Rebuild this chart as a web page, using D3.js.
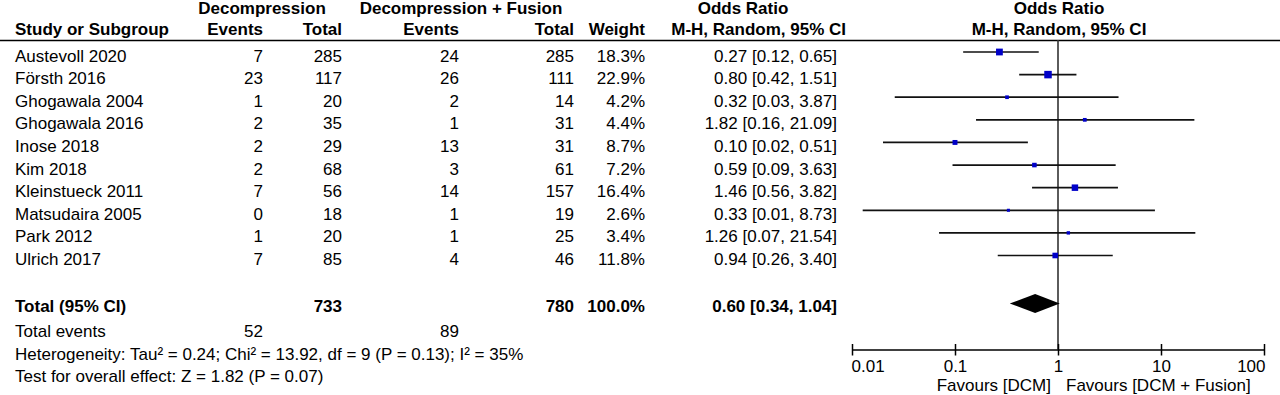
<!DOCTYPE html>
<html>
<head>
<meta charset="utf-8">
<script src="https://cdn.jsdelivr.net/npm/d3@7"></script>
<style>
  body { margin: 0; background: #fff; }
  svg text { font-family: "Liberation Sans", Arial, sans-serif; font-size: 17px; fill: #000; }
</style>
</head>
<body>
<script>
// study rows
const studies = ["Austevoll 2020", "Försth 2016", "Ghogawala 2004", "Ghogawala 2016", "Inose 2018",
  "Kim 2018", "Kleinstueck 2011", "Matsudaira 2005", "Park 2012", "Ulrich 2017"];
const dcmEvents = [7, 23, 1, 2, 2, 2, 7, 0, 1, 7];
const dcmTotal = [285, 117, 20, 35, 29, 68, 56, 18, 20, 85];
const fusEvents = [24, 26, 2, 1, 13, 3, 14, 1, 1, 4];
const fusTotal = [285, 111, 14, 31, 31, 61, 157, 19, 25, 46];
const weights = [18.3, 22.9, 4.2, 4.4, 8.7, 7.2, 16.4, 2.6, 3.4, 11.8];
const oddsRatio = [0.27, 0.80, 0.32, 1.82, 0.10, 0.59, 1.46, 0.33, 1.26, 0.94];
const ciLow = [0.12, 0.42, 0.026, 0.16, 0.02, 0.0946, 0.56, 0.0127, 0.07, 0.26];
const ciHigh = [0.65, 1.51, 3.87, 21.09, 0.51, 3.63, 3.82, 8.73, 21.54, 3.40];

// pooled result
const totalDcm = 733, totalFus = 780;
const eventsDcm = 52, eventsFus = 89;
const pooled = [0.60, 0.34, 1.04];
const tickVals = [0.01, 0.1, 1, 10, 100];
const footLines = ["Heterogeneity: Tau² = 0.24; Chi² = 13.92, df = 9 (P = 0.13); I² = 35%",
  "Test for overall effect: Z = 1.82 (P = 0.07)"];

const W = 1280, H = 395;
const svg = d3.select("body").append("svg").attr("width", W).attr("height", H);

const x = d3.scaleLog().domain([0.01, 100]).range([852, 1264]);
const rowY = d3.scaleLinear().domain([0, 9]).range([52, 255.5]);
const axisY = 349.5, totalY = 303.5;

// column right edges
const col = { ev1: 263, tot1: 342, ev2: 459, tot2: 574, wt: 645, ci: 837 };
const f2 = v => v.toFixed(2);

function txt(xp, yp, s, anchor, bold) {
  svg.append("text").attr("x", xp).attr("y", yp)
    .attr("text-anchor", anchor || "start")
    .attr("font-weight", bold ? "bold" : null)
    .text(s);
}

// headers
txt(262, 14, "Decompression", "middle", true);
txt(461, 14, "Decompression + Fusion", "middle", true);
txt(743, 14, "Odds Ratio", "middle", true);
txt(1059, 14, "Odds Ratio", "middle", true);
txt(15, 35, "Study or Subgroup", "start", true);
txt(col.ev1, 35, "Events", "end", true);
txt(col.tot1, 35, "Total", "end", true);
txt(col.ev2, 35, "Events", "end", true);
txt(col.tot2, 35, "Total", "end", true);
txt(col.wt, 35, "Weight", "end", true);
txt(846, 35, "M-H, Random, 95% CI", "end", true);
txt(1059, 35, "M-H, Random, 95% CI", "middle", true);

svg.append("line").attr("x1", 0).attr("x2", W).attr("y1", 40.5).attr("y2", 40.5)
  .attr("stroke", "#000").attr("stroke-width", 1.5);

// null line
svg.append("line").attr("x1", x(1)).attr("x2", x(1)).attr("y1", 40).attr("y2", axisY)
  .attr("stroke", "#333").attr("stroke-width", 1.6);

// study rows
const rows = svg.selectAll("g.row").data(studies).enter().append("g").attr("class", "row");
rows.each(function(name, i) {
  const by = rowY(i) + 9.5;
  txt(15, by, name);
  txt(col.ev1, by, dcmEvents[i], "end");
  txt(col.tot1, by, dcmTotal[i], "end");
  txt(col.ev2, by, fusEvents[i], "end");
  txt(col.tot2, by, fusTotal[i], "end");
  txt(col.wt, by, weights[i].toFixed(1) + "%", "end");
  txt(col.ci, by, `${f2(oddsRatio[i])} [${f2(ciLow[i])}, ${f2(ciHigh[i])}]`, "end");
});

svg.selectAll("line.ci").data(studies).enter().append("line").attr("class", "ci")
  .attr("x1", (d, i) => x(ciLow[i])).attr("x2", (d, i) => x(ciHigh[i]))
  .attr("y1", (d, i) => rowY(i)).attr("y2", (d, i) => rowY(i))
  .attr("stroke", "#111").attr("stroke-width", 1.7);

// square area follows weight
const side = w => 1.4 * Math.sqrt(w) + 0.8;
svg.selectAll("rect.sq").data(studies).enter().append("rect").attr("class", "sq")
  .attr("x", (d, i) => x(oddsRatio[i]) - side(weights[i]) / 2)
  .attr("y", (d, i) => rowY(i) - side(weights[i]) / 2)
  .attr("width", (d, i) => side(weights[i]))
  .attr("height", (d, i) => side(weights[i]))
  .attr("fill", "#0000c8");

// total row
txt(15, 312, "Total (95% CI)", "start", true);
txt(col.tot1, 312, totalDcm, "end", true);
txt(col.tot2, 312, totalFus, "end", true);
txt(col.wt, 312, "100.0%", "end", true);
txt(col.ci, 312, `${f2(pooled[0])} [${f2(pooled[1])}, ${f2(pooled[2])}]`, "end", true);

svg.append("path")
  .attr("d", `M${x(pooled[1])},${totalY} L${x(pooled[0])},${totalY - 9.5} L${x(pooled[2])},${totalY} L${x(pooled[0])},${totalY + 9.5} Z`)
  .attr("fill", "#000");

txt(15, 337, "Total events");
txt(col.ev1, 337, eventsDcm, "end");
txt(col.ev2, 337, eventsFus, "end");
footLines.forEach((s, i) => txt(15, 359.5 + i * 22.3, s));

// axis
const axis = d3.axisBottom(x).tickValues(tickVals).tickSize(6).tickSizeOuter(0)
  .tickFormat(d => String(d));
const ag = svg.append("g").attr("transform", `translate(0,${axisY})`).call(axis);
ag.attr("font-size", null).attr("font-family", null);
ag.select(".domain").attr("stroke", "#000").attr("stroke-width", 1.5);
ag.selectAll(".tick line").attr("y1", -5.5).attr("stroke", "#000").attr("stroke-width", 1.5);
ag.selectAll(".tick text")
  .attr("y", 22.5).attr("dy", 0)
  .attr("text-anchor", (d, i) => i === 0 ? "start" : i === tickVals.length - 1 ? "end" : "middle")
  .attr("dx", (d, i) => i === 0 ? -1 : i === tickVals.length - 1 ? 1 : 0);

txt(x(1) - 7, 391, "Favours [DCM]", "end");
txt(x(1) + 8, 391, "Favours [DCM + Fusion]", "start");
</script>
</body>
</html>
